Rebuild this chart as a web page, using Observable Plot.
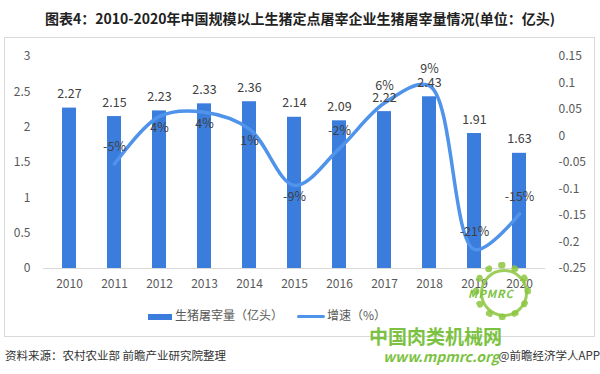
<!DOCTYPE html>
<html><head><meta charset="utf-8">
<script src="https://cdn.jsdelivr.net/npm/d3@7"></script>
<script src="https://cdn.jsdelivr.net/npm/@observablehq/plot@0.6"></script>
<style>
body{margin:0;width:600px;height:374px;position:relative;overflow:hidden;background:#fff;font-family:"Noto Sans CJK SC","Noto Sans",sans-serif;}
#title{position:absolute;left:0;top:8px;width:600px;text-align:center;font-size:14px;font-weight:bold;color:#222;line-height:20px;}
#box{position:absolute;left:4px;top:37px;width:591px;height:300px;border:1px solid #d9d9d9;box-sizing:border-box;}
#chart{position:absolute;left:0;top:0;}
#legend{position:absolute;top:306px;left:0;width:600px;height:18px;font-size:12px;color:#595959;}
.li{position:absolute;top:0;line-height:18px;white-space:nowrap;}
#src{position:absolute;left:5px;top:347px;font-size:11.5px;color:#333;}
#app{position:absolute;right:0px;top:347px;font-size:11.5px;color:#333;}
#logo{position:absolute;left:473px;top:262px;width:44px;height:44px;border:7px dotted #8cc63f;border-radius:50%;opacity:0.85;}
#logo2{position:absolute;left:480px;top:269px;width:42px;height:42px;border:3px solid #8cc63f;border-radius:50%;opacity:0.85;}
#logot{position:absolute;left:468px;top:285px;font-size:11px;font-weight:bold;font-style:italic;color:#7cc242;letter-spacing:1px;}
#wm1{position:absolute;left:369px;top:322px;font-size:19px;font-weight:bold;color:#7cc242;}
#wm2{position:absolute;left:383px;top:346px;font-size:14px;font-weight:bold;font-style:italic;color:#7cc242;}
</style></head>
<body>
<div id="title">图表4：2010-2020年中国规模以上生猪定点屠宰企业生猪屠宰量情况(单位：亿头)</div>
<div id="box"></div>
<div id="chart"></div>
<div id="legend">
  <div class="li" style="left:148px;"><span style="display:inline-block;width:24px;height:6px;background:#3b7ddd;vertical-align:middle;margin-right:3px;"></span>生猪屠宰量（亿头）</div>
  <div class="li" style="left:297px;"><span style="display:inline-block;width:28px;height:3px;background:#4f93ea;vertical-align:middle;margin-right:2px;border-radius:2px;"></span>增速（%）</div>
</div>
<div id="src">资料来源：农村农业部 前瞻产业研究院整理</div>
<div id="app">@前瞻经济学人APP</div>
<div id="logo"></div>
<div id="logo2"></div>
<div id="logot">MPMRC</div>
<div id="wm1">中国肉类机械网</div>
<div id="wm2">www.mpmrc.org</div>
<script>
const years = ["2010","2011","2012","2013","2014","2015","2016","2017","2018","2019","2020"];
const volume = [2.27, 2.15, 2.23, 2.33, 2.36, 2.14, 2.09, 2.22, 2.43, 1.91, 1.63];
const growthYears = ["2011","2012","2013","2014","2015","2016","2017","2018","2019","2020"];
const growth = [-0.053, 0.037, 0.0448, 0.0129, -0.0932, -0.0234, 0.0622, 0.0946, -0.214, -0.147];
const leftTicks = [0, 0.5, 1, 1.5, 2, 2.5, 3];
const rightTicks = [-0.25, -0.2, -0.15, -0.1, -0.05, 0, 0.05, 0.1, 0.15];

const rMin = -0.25, rMax = 0.15, lMax = 3;
const toLeft = g => (g - rMin) / (rMax - rMin) * lMax;
const fromLeft = v => Math.round((v / lMax * (rMax - rMin) + rMin) * 100) / 100;

const bars = years.map((y, i) => ({year: y, v: volume[i]}));
const gr = growthYears.map((y, i) => ({year: y, g: growth[i], yv: toLeft(growth[i]), below: i >= 1 && i <= 4}));

const font = '"Noto Sans CJK SC","Noto Sans",sans-serif';
const chart = Plot.plot({
  width: 600, height: 300,
  marginLeft: 43, marginRight: 55, marginTop: 56, marginBottom: 32,
  style: {fontFamily: font, fontSize: "12px", color: "#595959", background: "transparent"},
  x: {type: "band", domain: years, paddingInner: 0.69, paddingOuter: 0.345},
  y: {domain: [0, 3]},
  marks: [
    Plot.axisY(leftTicks, {anchor: "left", tickSize: 0, tickPadding: 13, fontSize: 12, fill: "#595959", label: null, tickFormat: d => String(d)}),
    Plot.axisY(rightTicks.map(toLeft), {anchor: "right", tickSize: 0, tickPadding: 13, fontSize: 12, fill: "#595959", label: null, tickFormat: d => String(fromLeft(d))}),
    Plot.axisX({tickSize: 0, tickPadding: 11, fontSize: 12, fill: "#595959", label: null}),
    Plot.barY(bars, {x: "year", y: "v", fill: "#3b7ddd"}),
    Plot.ruleY([0], {stroke: "#d9d9d9", strokeWidth: 1}),
    Plot.line(gr, {x: "year", y: "yv", stroke: "#4f93ea", strokeWidth: 3.5, curve: "catmull-rom"}),
    Plot.text(bars, {x: "year", y: "v", text: d => d.v.toFixed(2), dy: -14, fontSize: 12.5, fill: "#404040"}),
    Plot.text(gr.filter(d => !d.below), {x: "year", y: "yv", text: d => Math.round(d.g * 100) + "%", dy: -17, fontSize: 12.5, fill: "#404040"}),
    Plot.text(gr.filter(d => d.below), {x: "year", y: "yv", text: d => Math.round(d.g * 100) + "%", dy: 12, fontSize: 12.5, fill: "#404040"})
  ]
});
document.getElementById("chart").appendChild(chart);
</script>
</body></html>
